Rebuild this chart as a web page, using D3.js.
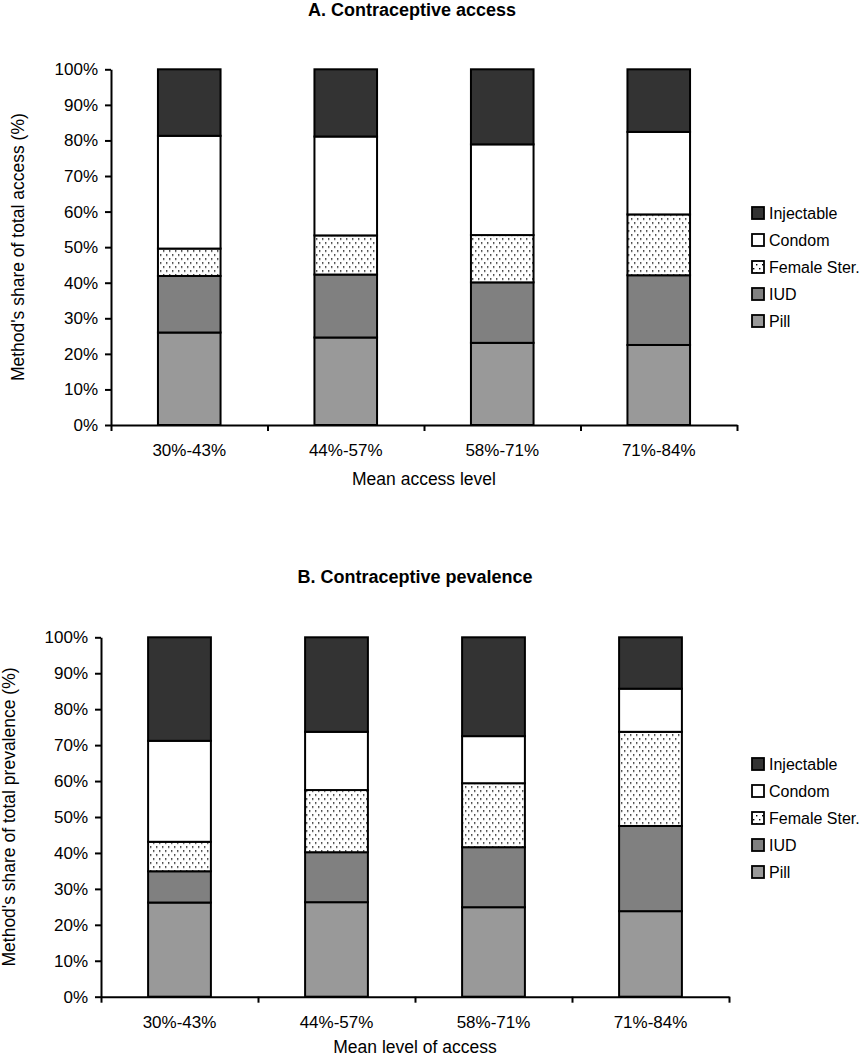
<!DOCTYPE html>
<html>
<head>
<meta charset="utf-8">
<script src="https://cdn.jsdelivr.net/npm/d3@7"></script>
<style>
  body { margin: 0; background: #fff; }
  text { font-family: Arial, "Liberation Sans", sans-serif; fill: #000; }
</style>
</head>
<body>
<div id="chart"></div>
<script>
// data (share of each method, %)
var categories = ["30%-43%", "44%-57%", "58%-71%", "71%-84%"];
var methods = ["Pill", "IUD", "Female Ster.", "Condom", "Injectable"];
var legendOrder = ["Injectable", "Condom", "Female Ster.", "IUD", "Pill"];
var yTicks = [0, 10, 20, 30, 40, 50, 60, 70, 80, 90, 100];

// A. access
var accessPill       = [26.0, 24.6, 23.1, 22.5];
var accessIUD        = [15.9, 17.7, 17.0, 19.6];
var accessFemaleSter = [7.7, 11.0, 13.3, 17.1];
var accessCondom     = [31.7, 27.8, 25.5, 23.2];
var accessInjectable = [18.7, 18.9, 21.1, 17.6];

// B. prevalence
var prevPill       = [26.2, 26.3, 24.9, 23.8];
var prevIUD        = [8.7, 13.9, 16.7, 23.7];
var prevFemaleSter = [8.2, 17.3, 17.8, 26.2];
var prevCondom     = [28.1, 16.2, 13.1, 12.0];
var prevInjectable = [28.8, 26.3, 27.5, 14.3];

var svgWidth = 865;
var svgHeight = 1058;

var svg = d3.select("#chart")
  .append("svg")
  .attr("width", svgWidth)
  .attr("height", svgHeight);

// dotted fill for female sterilisation
var defs = svg.append("defs");
var pat = defs.append("pattern")
  .attr("id", "dots")
  .attr("patternUnits", "userSpaceOnUse")
  .attr("width", 6)
  .attr("height", 8);
pat.append("rect").attr("width", 6).attr("height", 8).attr("fill", "#fff");
pat.append("rect").attr("x", 1).attr("y", 1).attr("width", 1.4).attr("height", 1.4).attr("fill", "#000");
pat.append("rect").attr("x", 4).attr("y", 5).attr("width", 1.4).attr("height", 1.4).attr("fill", "#000");

var color = d3.scaleOrdinal()
  .domain(methods)
  .range(["#999999", "#808080", "url(#dots)", "#ffffff", "#333333"]);

function buildRows(pill, iud, fs, condom, inj) {
  return categories.map(function(c, i) {
    return {cat: c, "Pill": pill[i], "IUD": iud[i], "Female Ster.": fs[i], "Condom": condom[i], "Injectable": inj[i]};
  });
}

function drawChart(opts) {
  var g = svg.append("g")
    .attr("transform", `translate(${opts.left}, ${opts.top})`);

  var x = d3.scaleBand()
    .domain(categories)
    .range([0, opts.width])
    .paddingInner(0.6)
    .paddingOuter(0.3);

  var xEdges = d3.scaleLinear().domain([0, categories.length]).range([0, opts.width]);

  var y = d3.scaleLinear()
    .domain([0, 100])
    .range([opts.height, 0]);

  var series = d3.stack().keys(methods)(opts.rows);

  g.selectAll(".layer")
    .data(series)
    .enter()
    .append("g")
    .attr("class", "layer")
    .attr("fill", d => color(d.key))
    .selectAll("rect")
    .data(d => d)
    .enter()
    .append("rect")
    .attr("x", d => x(d.data.cat))
    .attr("y", d => y(d[1]))
    .attr("width", x.bandwidth())
    .attr("height", d => y(d[0]) - y(d[1]))
    .attr("stroke", "#000")
    .attr("stroke-width", 2);

  // y axis
  var yAxis = g.append("g")
    .call(d3.axisLeft(y).tickValues(yTicks).tickFormat(d => d + "%").tickSize(6).tickSizeOuter(0).tickPadding(7));
  yAxis.selectAll("text").style("font-size", "17px");

  // x axis: labels
  var xAxis = g.append("g")
    .attr("transform", `translate(0, ${opts.height})`)
    .call(d3.axisBottom(x).tickSize(0).tickPadding(19));
  xAxis.select(".domain").remove();
  xAxis.selectAll("text").style("font-size", "17px");

  // x axis: boundary ticks
  g.append("g")
    .attr("transform", `translate(0, ${opts.height})`)
    .call(d3.axisBottom(xEdges).ticks(categories.length).tickFormat("").tickSize(6).tickSizeOuter(0));

  g.selectAll(".domain, .tick line").attr("stroke", "#000").attr("stroke-width", 2);

  // titles
  svg.append("text")
    .attr("x", opts.titleX)
    .attr("y", opts.titleY)
    .attr("text-anchor", "middle")
    .style("font-size", "18px")
    .style("font-weight", "bold")
    .text(opts.title);

  svg.append("text")
    .attr("x", opts.left + opts.width / 2)
    .attr("y", opts.xLabelY)
    .attr("text-anchor", "middle")
    .style("font-size", "17.5px")
    .text(opts.xLabel);

  svg.append("text")
    .attr("transform", `translate(${opts.yLabelX}, ${opts.top + opts.height / 2}) rotate(-90)`)
    .attr("text-anchor", "middle")
    .style("font-size", "17.5px")
    .text(opts.yLabel);

  // legend
  var legend = svg.append("g")
    .attr("transform", `translate(752, ${opts.legendY})`);
  var item = legend.selectAll(".item")
    .data(legendOrder)
    .enter()
    .append("g")
    .attr("transform", (d, i) => `translate(0, ${i * 27})`);
  item.append("rect")
    .attr("x", 0)
    .attr("y", -6)
    .attr("width", 12)
    .attr("height", 12)
    .attr("fill", d => color(d))
    .attr("stroke", "#000")
    .attr("stroke-width", 1.8);
  item.append("text")
    .attr("x", 17)
    .attr("y", 6)
    .style("font-size", "16px")
    .text(d => d);
}

drawChart({
  rows: buildRows(accessPill, accessIUD, accessFemaleSter, accessCondom, accessInjectable),
  left: 111, top: 69.3, width: 626, height: 355.7,
  title: "A. Contraceptive access", titleX: 412, titleY: 16,
  xLabel: "Mean access level", xLabelY: 485,
  yLabel: "Method's share of total access (%)", yLabelX: 24,
  legendY: 213
});

drawChart({
  rows: buildRows(prevPill, prevIUD, prevFemaleSter, prevCondom, prevInjectable),
  left: 101, top: 637.3, width: 628, height: 359.4,
  title: "B. Contraceptive pevalence", titleX: 415, titleY: 583,
  xLabel: "Mean level of access", xLabelY: 1053,
  yLabel: "Method's share of total prevalence (%)", yLabelX: 15,
  legendY: 764
});
</script>
</body>
</html>
